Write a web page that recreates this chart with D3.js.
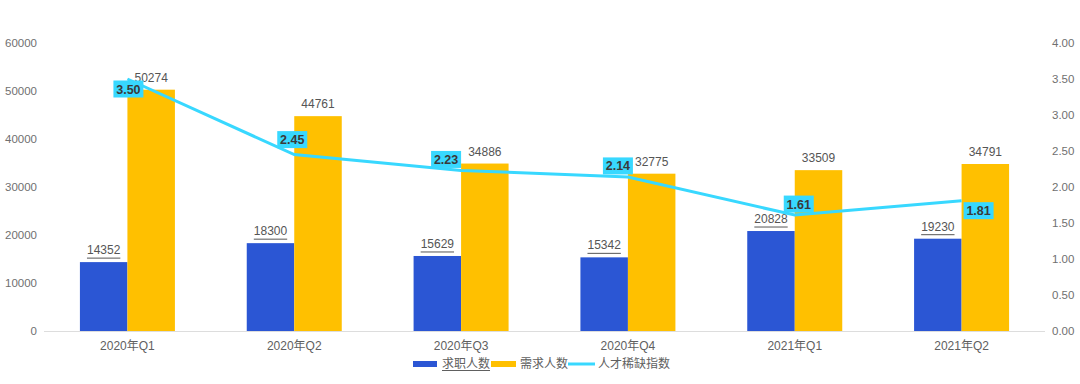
<!DOCTYPE html>
<html><head><meta charset="utf-8">
<script src="https://cdn.jsdelivr.net/npm/d3@7"></script>
<style>body{margin:0;background:#fff}svg{display:block}text{font-family:"Liberation Sans",Arial,"Noto Sans CJK SC",sans-serif}</style>
</head><body><svg id="c" width="1080" height="384"></svg>
<script>
const categories = ["2020年Q1","2020年Q2","2020年Q3","2020年Q4","2021年Q1","2021年Q2"];
const seekers = [14352,18300,15629,15342,20828,19230];
const demand = [50274,44761,34886,32775,33509,34791];
const scarcity = [3.50,2.45,2.23,2.14,1.61,1.81];
const leftTicks = [0,10000,20000,30000,40000,50000,60000];
const rightTicks = [0,0.5,1,1.5,2,2.5,3,3.5,4];
const seriesNames = ["求职人数","需求人数","人才稀缺指数"];
// label box offsets (layout only)
const labelOffsets = [[1,10],[-2,-15],[-15,-11],[-10,-11],[4,-11],[17,10]];

const C = {blue:"#2b56d4", orange:"#ffc000", cyan:"#38d8ff"};
const svg = d3.select("#c");
const L=44, R=1045, T=43, B=331;
const x = d3.scaleBand().domain(categories).range([L,R]);
const yL = d3.scaleLinear().domain([0,60000]).range([B,T]);
const yR = d3.scaleLinear().domain([0,4]).range([B,T]);
const bw = 47.5;

// axes labels
svg.append("g").selectAll("text").data(leftTicks).join("text")
  .attr("x",37).attr("y",d=>yL(d)+4).attr("text-anchor","end")
  .attr("font-size",11.5).attr("fill","#707070").text(d=>d);
svg.append("g").selectAll("text").data(rightTicks).join("text")
  .attr("x",1052).attr("y",d=>yR(d)+4).attr("text-anchor","start")
  .attr("font-size",11.5).attr("fill","#707070").text(d=>d.toFixed(2));
svg.append("line").attr("x1",L).attr("x2",R).attr("y1",B+0.5).attr("y2",B+0.5).attr("stroke","#ddd");
svg.append("g").selectAll("text").data(categories).join("text")
  .attr("x",d=>x(d)+x.bandwidth()/2).attr("y",350).attr("text-anchor","middle")
  .attr("font-size",12).attr("fill","#606060").text(d=>d);

const cx = i => x(categories[i]) + x.bandwidth()/2;
// bars
svg.append("g").selectAll("rect").data(seekers).join("rect")
  .attr("x",(d,i)=>cx(i)-bw).attr("width",bw).attr("y",d=>yL(d)).attr("height",d=>B-yL(d)).attr("fill",C.blue);
svg.append("g").selectAll("rect").data(demand).join("rect")
  .attr("x",(d,i)=>cx(i)).attr("width",bw).attr("y",d=>yL(d)).attr("height",d=>B-yL(d)).attr("fill",C.orange);
// bar labels
const gl = svg.append("g");
seekers.forEach((d,i)=>{
  const tx = cx(i)-bw/2, ty = yL(d)-8;
  const t = gl.append("text").attr("x",tx).attr("y",ty).attr("text-anchor","middle")
    .attr("font-size",12).attr("fill","#555").text(d);
  const w = t.node().getComputedTextLength();
  gl.append("line").attr("x1",tx-w/2).attr("x2",tx+w/2).attr("y1",ty+4).attr("y2",ty+4)
    .attr("stroke","#555").attr("stroke-width",1);
});
svg.append("g").selectAll("text").data(demand).join("text")
  .attr("x",(d,i)=>cx(i)+bw/2).attr("y",d=>yL(d)-8).attr("text-anchor","middle")
  .attr("font-size",12).attr("fill","#555").text(d=>d);

// line
const line = d3.line().x((d,i)=>cx(i)).y(d=>yR(d));
svg.append("path").datum(scarcity).attr("d",line).attr("fill","none")
  .attr("stroke",C.cyan).attr("stroke-width",3);
// line labels
const ll = svg.append("g");
scarcity.forEach((d,i)=>{
  const px = cx(i)+labelOffsets[i][0], py = yR(d)+labelOffsets[i][1];
  ll.append("rect").attr("x",px-15).attr("y",py-8.5).attr("width",30).attr("height",17).attr("fill",C.cyan);
  ll.append("text").attr("x",px).attr("y",py+4.5).attr("text-anchor","middle")
    .attr("font-size",12.5).attr("font-weight","bold").attr("fill","#3a3a3a").text(d.toFixed(2));
});

// legend
const lg = svg.append("g");
lg.append("rect").attr("x",413).attr("y",361).attr("width",24).attr("height",6).attr("fill",C.blue);
const t1 = lg.append("text").attr("x",442).attr("y",368).attr("font-size",12).attr("fill","#606060").text(seriesNames[0]);
const w1 = t1.node().getComputedTextLength();
lg.append("line").attr("x1",442).attr("x2",442+w1).attr("y1",370.5).attr("y2",370.5).attr("stroke","#606060");
lg.append("rect").attr("x",491).attr("y",361).attr("width",25).attr("height",6).attr("fill",C.orange);
lg.append("text").attr("x",520).attr("y",368).attr("font-size",12).attr("fill","#606060").text(seriesNames[1]);
lg.append("line").attr("x1",568).attr("x2",595).attr("y1",364).attr("y2",364).attr("stroke",C.cyan).attr("stroke-width",3);
lg.append("text").attr("x",598).attr("y",368).attr("font-size",12).attr("fill","#606060").text(seriesNames[2]);
</script></body></html>
